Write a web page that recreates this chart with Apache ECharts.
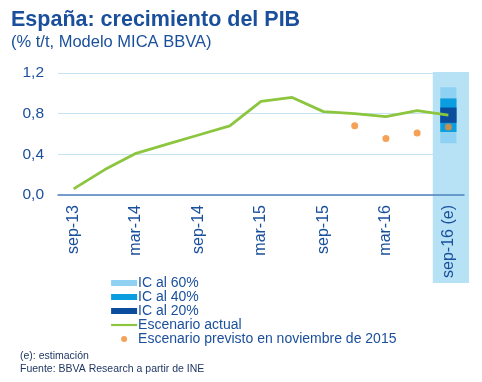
<!DOCTYPE html>
<html><head><meta charset="utf-8">
<script src="https://cdn.jsdelivr.net/npm/echarts@6/dist/echarts.min.js"></script>
<style>html,body{margin:0;padding:0;background:#fff}#c{width:482px;height:382px}</style>
</head><body><div id="c"></div>
<script>
var categories = ['sep-13','dic-13','mar-14','jun-14','sep-14','dic-14','mar-15','jun-15','sep-15','dic-15','mar-16','jun-16','sep-16 (e)'];
var actual = [0.06,0.25,0.41,0.50,0.59,0.68,0.92,0.96,0.82,0.80,0.77,0.83,0.785];
var previsto = [null,null,null,null,null,null,null,null,null,0.68,0.555,0.61,0.67];
var ic60 = [12, 0.51, 1.06];
var ic40 = [12, 0.62, 0.95];
var ic20 = [12, 0.71, 0.86];
var yTicks = [0, 0.4, 0.8, 1.2];

var NAVY = '#1a4f9c';
var FONT = '"Liberation Sans", Arial, sans-serif';
var chart = echarts.init(document.getElementById('c'));

function icSeries(name, d, color, z) {
  return {
    name: name, type: 'custom', z: z,
    itemStyle: {color: color},
    data: [d],
    encode: {x: 0, y: [1, 2]},
    renderItem: function (params, api) {
      var hi = api.coord([api.value(0), api.value(2)]);
      var lo = api.coord([api.value(0), api.value(1)]);
      var w = api.size([1, 0])[0] * 0.52;
      return {type: 'rect', shape: {x: hi[0] - w / 2, y: hi[1], width: w, height: lo[1] - hi[1]},
              style: {fill: color}};
    }
  };
}

chart.setOption({
  animation: false,
  textStyle: {fontFamily: FONT},
  title: [
    {text: 'España: crecimiento del PIB', left: 6, top: 4,
     textStyle: {fontFamily: FONT, fontSize: 21.5, fontWeight: 'bold', color: NAVY}},
    {text: '(% t/t, Modelo MICA BBVA)', left: 6, top: 29,
     textStyle: {fontFamily: FONT, fontSize: 16.5, fontWeight: 'normal', color: NAVY}},
    {text: '(e): estimación\nFuente: BBVA Research a partir de INE', left: 15, top: 344,
     textStyle: {fontFamily: FONT, fontSize: 10.5, fontWeight: 'normal', color: '#203864', lineHeight: 13.5}}
  ],
  grid: {left: 58, right: 18, top: 73, bottom: 187},
  xAxis: {
    type: 'category', data: categories, boundaryGap: true, z: 4,
    axisLine: {lineStyle: {color: '#4f81bd', width: 1.5}},
    axisTick: {interval: 2, length: 5, lineStyle: {color: '#4f81bd', width: 1.5}},
    axisLabel: {interval: 1, rotate: 90, margin: 10, color: NAVY, fontSize: 16, fontFamily: FONT}
  },
  yAxis: {
    type: 'value', min: 0, max: 1.2, interval: 0.4, z: 0,
    axisLine: {show: false}, axisTick: {show: false},
    splitLine: {lineStyle: {color: '#c6e4f3', width: 1.2}},
    axisLabel: {margin: 14, color: NAVY, fontSize: 15.5, fontFamily: FONT,
      formatter: function (v) { return v.toFixed(1).replace('.', ','); }}
  },
  legend: {
    orient: 'vertical', left: 110, top: 276, padding: 0, itemWidth: 26, itemHeight: 6, itemGap: 0,
    textStyle: {fontFamily: FONT, fontSize: 14, color: NAVY, lineHeight: 13.8, padding: [0, 0, 0, -4]},
    data: [
      {name: 'IC al 60%', icon: 'rect'},
      {name: 'IC al 40%', icon: 'rect'},
      {name: 'IC al 20%', icon: 'rect'},
      {name: 'Escenario actual', itemStyle: {opacity: 0}, lineStyle: {width: 2.2}},
      {name: 'Escenario previsto en noviembre de 2015', icon: 'circle'}
    ]
  },
  series: [
    icSeries('IC al 60%', ic60, '#8fd1f2', 2),
    icSeries('IC al 40%', ic40, '#0a9ee0', 3),
    icSeries('IC al 20%', ic20, '#0b4c9c', 4),
    {name: 'Escenario actual', type: 'line', data: actual, symbol: 'none', z: 5,
     lineStyle: {color: '#8cc63f', width: 2.8}, itemStyle: {color: '#8cc63f'}},
    {name: 'Escenario previsto en noviembre de 2015', type: 'scatter', data: previsto,
     symbol: 'circle', symbolSize: 7, z: 6, itemStyle: {color: '#f28a2e'}}
  ]
});

// shaded estimation column, placed from the axis scale
var c12 = chart.convertToPixel({xAxisIndex: 0}, 12);
var c11 = chart.convertToPixel({xAxisIndex: 0}, 11);
var bw = c12 - c11;
var yTop = chart.convertToPixel({yAxisIndex: 0}, 1.2);
chart.setOption({
  graphic: [{type: 'rect', z: 1, silent: true,
    shape: {x: c12 - bw / 2, y: yTop - 1, width: bw + 5, height: 284 - yTop},
    style: {fill: '#b7e2f6'}}]
});
</script></body></html>
